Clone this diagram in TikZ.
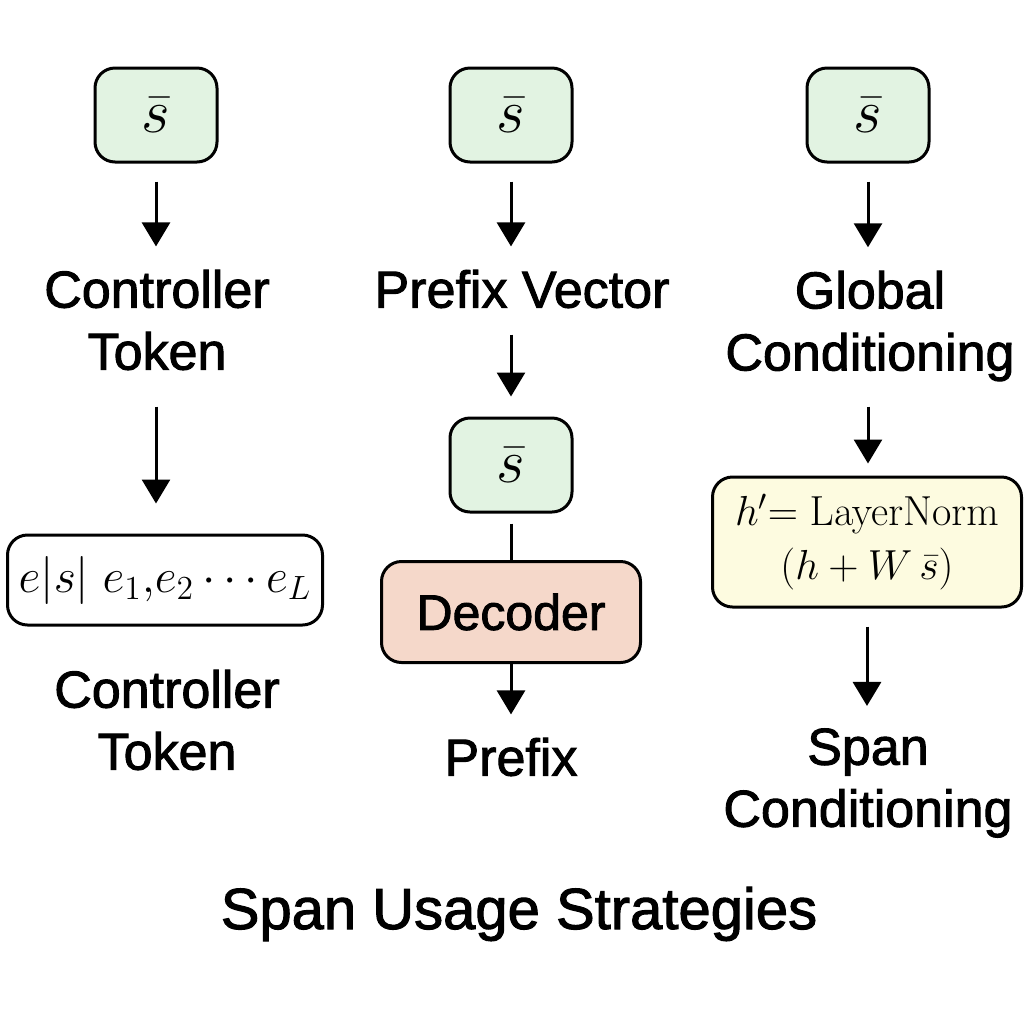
\RequirePackage{fix-cm}
\documentclass[tikz,border=0pt]{standalone}
\usepackage[no-math]{fontspec}
\setmainfont{Liberation Sans}[FakeBold=1.8]
\usetikzlibrary{arrows.meta}
\definecolor{spangreen}{HTML}{E2F3E2}
\definecolor{decpink}{HTML}{F5D8CA}
\definecolor{lnyellow}{HTML}{FDFBE0}
\begin{document}
\begin{tikzpicture}[x=0.5pt, y=-0.5pt, line width=1.5pt,
  >={Triangle[width=14pt,length=12pt]},
  sbar/.style={draw, rounded corners=10pt, fill=spangreen, minimum width=61pt, minimum height=47pt, font=\fontsize{31}{36}\selectfont},
  seqbox/.style={draw, rounded corners=10pt, fill=white, minimum width=157.5pt, minimum height=45pt, inner sep=2pt, font=\fontsize{24}{28}\selectfont},
  decbox/.style={draw, rounded corners=10pt, fill=decpink, minimum width=129.5pt, minimum height=50.5pt, font=\fontsize{25}{30}\selectfont},
  lnbox/.style={draw, rounded corners=10pt, fill=lnyellow, align=center, minimum width=154.5pt, minimum height=65pt, inner sep=2pt, font=\fontsize{21}{27}\selectfont},
  lbl/.style={align=center, inner sep=0pt, font=\fontsize{26}{31}\selectfont},
  arr/.style={->, shorten <=9pt, shorten >=11pt}]
\useasboundingbox (0,0) rectangle (1024,1024);

% Controller token
\node[sbar] (s1) at (156,115) {$\bar{s}$};
\node[lbl] (ct1) at (157,320) {Controller\\Token};
\node[seqbox] (seq) at (165,580) {$e|s|\;e_1{,}e_2\cdots e_L$};
\node[lbl] (ct2) at (167,720) {Controller\\Token};
\draw[arr] (s1.south) -- (s1.south |- ct1.north);
\draw[arr, shorten <=17.5pt, shorten >=15pt] (s1.south |- ct1.south) -- (s1.south |- seq.north);

% Prefix
\node[sbar] (s2) at (511,115) {$\bar{s}$};
\node[lbl] (pv) at (522,289) {Prefix Vector};
\node[sbar] (s3) at (511,465) {$\bar{s}$};
\node[decbox] (dec) at (511,612) {Decoder};
\node[lbl] (pre) at (511,757) {Prefix};
\draw[arr] (s2.south) -- (s2.south |- pv.north);
\draw[arr, shorten <=12.5pt, shorten >=10pt] (s2.south |- pv.south) -- (s3.north);
\draw[shorten <=5pt] (s3.south) -- (dec.north);
\draw[arr, shorten <=0pt] (dec.south) -- (pre.north);

% Global conditioning
\node[sbar] (s4) at (868,115) {$\bar{s}$};
\node[lbl] (gc) at (870,326) {Global\\Conditioning};
\node[lnbox] (ln) at (867,542) {$h'{=}\;\mathrm{LayerNorm}$\\$(h+W\,\bar{s})$};
\node[lbl] (sc) at (868,783) {Span\\Conditioning};
\draw[arr] (s4.south) -- (s4.south |- gc.north);
\draw[arr, shorten <=12pt, shorten >=6pt] (s4.south |- gc.south) -- (s4.south |- ln.north);
\draw[arr, shorten >=10.5pt] (ln.south) -- (ln.south |- sc.north);

\node[font=\fontsize{29}{35}\selectfont] (title) at (519,914) {Span Usage Strategies};
\end{tikzpicture}
\end{document}
